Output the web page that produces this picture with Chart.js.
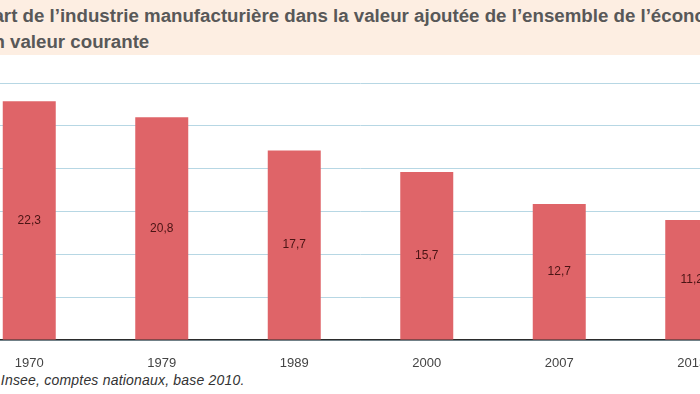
<!DOCTYPE html>
<html>
<head>
<meta charset="utf-8">
<script src="https://cdn.jsdelivr.net/npm/chart.js@4/dist/chart.umd.min.js"></script>
<style>
  html, body { margin: 0; padding: 0; background: #fff; }
  body { width: 700px; height: 394px; overflow: hidden; position: relative; }
  #title {
    position: absolute; left: 0; top: 0; width: 700px; height: 55px;
    background: #fdeee2; overflow: hidden;
  }
  #title div {
    position: absolute; left: -19px; white-space: nowrap;
    font-family: "Liberation Sans Narrow", "Arial Narrow", "Liberation Sans", sans-serif;
    font-weight: bold; font-size: 18.7px; color: #585858;
  }
  #wrap { position: absolute; left: -37px; top: 57px; width: 795px; height: 315px; }
  #source {
    position: absolute; left: -57px; top: 372px; white-space: nowrap;
    font-family: "Liberation Sans", Arial, sans-serif; font-style: italic;
    font-size: 14px; letter-spacing: 0.2px; color: #333;
  }
</style>
</head>
<body>
<div id="title">
  <div style="top:5px">Part de l’industrie manufacturière dans la valeur ajoutée de l’ensemble de l’économie</div>
  <div style="top:31px">En valeur courante</div>
</div>
<div id="wrap"><canvas id="c"></canvas></div>
<div id="source">Source : Insee, comptes nationaux, base 2010.</div>
<script>
const years = ['1970', '1979', '1989', '2000', '2007', '2013'];
const shares = [22.3, 20.8, 17.7, 15.7, 12.7, 11.2];
const yTicks = [0, 4, 8, 12, 16, 20, 24];

// value labels in the middle of each bar, French decimal comma
const barLabels = {
  id: 'barLabels',
  afterDatasetsDraw(chart) {
    const ctx = chart.ctx;
    const meta = chart.getDatasetMeta(0);
    ctx.save();
    ctx.font = '12px "Liberation Sans", Arial, sans-serif';
    ctx.fillStyle = '#4a1414';
    ctx.textAlign = 'center';
    ctx.textBaseline = 'middle';
    meta.data.forEach((bar, i) => {
      const y = (bar.y + bar.base) / 2;
      ctx.fillText(shares[i].toFixed(1).replace('.', ','), bar.x, y);
    });
    ctx.restore();
  }
};

new Chart(document.getElementById('c'), {
  type: 'bar',
  data: {
    labels: years,
    datasets: [{
      data: shares,
      backgroundColor: '#df6468',
      barPercentage: 0.4,
      categoryPercentage: 1
    }]
  },
  options: {
    responsive: true,
    maintainAspectRatio: false,
    animation: false,
    layout: { padding: { top: 26, left: 0, right: 0, bottom: 0 } },
    plugins: { legend: { display: false }, tooltip: { enabled: false } },
    scales: {
      x: {
        grid: { display: false },
        border: { color: '#2b2b2b', width: 1.5 },
        ticks: {
          color: '#444', padding: 8,
          font: { family: '"Liberation Sans", Arial, sans-serif', size: 13 }
        },
        afterFit(scale) { scale.height = 32; }
      },
      y: {
        min: 0, max: 24,
        afterBuildTicks(scale) { scale.ticks = yTicks.map(v => ({ value: v })); },
        ticks: { display: false },
        border: { display: false },
        grid: { color: '#b7d7e4', lineWidth: 1, drawTicks: false },
        afterFit(scale) { scale.width = 0; }
      }
    }
  },
  plugins: [barLabels]
});
</script>
</body>
</html>
